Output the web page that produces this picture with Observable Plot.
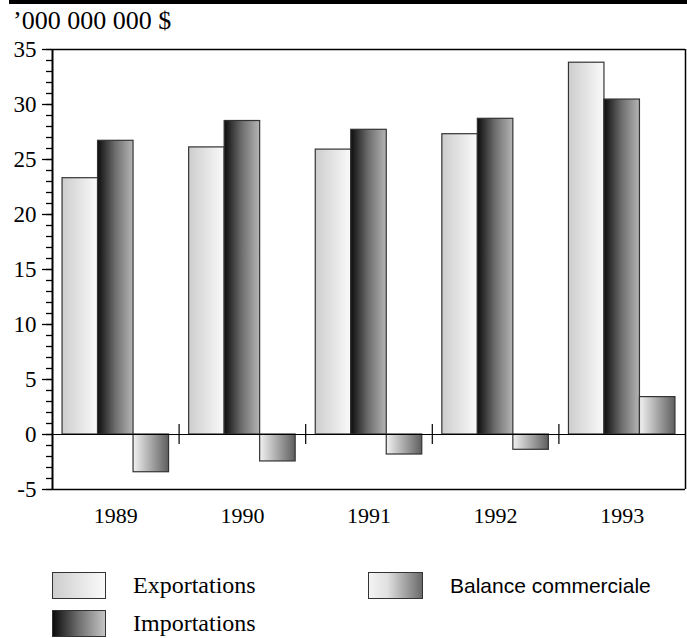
<!DOCTYPE html>
<html>
<head>
<meta charset="utf-8">
<script src="https://cdn.jsdelivr.net/npm/d3@7"></script>
<script src="https://cdn.jsdelivr.net/npm/@observablehq/plot@0.6"></script>
<style>
  body { margin: 0; background: #fff; width: 687px; height: 638px; position: relative; overflow: hidden; }
  #topbar { position: absolute; left: 9px; top: 0; width: 678px; height: 4px; background: #000; }
  #title { position: absolute; left: 13px; top: 8px; font-family: "Liberation Serif", "Times New Roman", serif; font-size: 26px; line-height: 26px; color: #000; white-space: nowrap; }
  #chart { position: absolute; left: 0; top: 34px; }
  .sw { position: absolute; box-sizing: border-box; border: 1px solid #333; height: 27px; }
  .lt { position: absolute; white-space: nowrap; color: #000; }
</style>
</head>
<body>
<div id="topbar"></div>
<div id="title">’000 000 000 $</div>
<div id="chart"></div>
<div class="sw" style="left:52px;top:572px;width:54px;background:linear-gradient(to right,#cdcdcd,#fafafa);"></div>
<div class="lt" style="left:133px;top:573px;font-family:'Liberation Serif','Times New Roman',serif;font-size:24px;line-height:24px;">Exportations</div>
<div class="sw" style="left:52px;top:610px;width:54px;background:linear-gradient(to right,#0d0d0d,#707070 50%,#c4c4c4);"></div>
<div class="lt" style="left:133px;top:611px;font-family:'Liberation Serif','Times New Roman',serif;font-size:24px;line-height:24px;">Importations</div>
<div class="sw" style="left:368px;top:572px;width:55px;background:linear-gradient(to right,#f4f4f4,#e0e0e0 35%,#6a6a6a);"></div>
<div class="lt" style="left:450px;top:575px;font-family:'Liberation Sans',Arial,sans-serif;font-size:21px;line-height:21px;">Balance commerciale</div>
<script>
// ---- data ----
const years = ["1989", "1990", "1991", "1992", "1993"];
const seriesNames = ["Exportations", "Importations", "Balance commerciale"];
const exportations = [23.3, 26.1, 25.9, 27.3, 33.8];
const importations = [26.7, 28.5, 27.7, 28.7, 30.45];
const balance = [-3.43, -2.45, -1.82, -1.39, 3.4];
const yMajorTicks = [-5, 0, 5, 10, 15, 20, 25, 30, 35];
const yMinorTicks = d3.range(-5, 36, 1);

const seriesValues = [exportations, importations, balance];
const seriesFill = ["url(#gExp)", "url(#gImp)", "url(#gBal)"];

// position of each series within a year group (fraction of the group)
const inner = d3.scaleBand().domain(seriesNames).range([0, 1]).paddingInner(0).paddingOuter(0.283);

const rows = [];
seriesNames.forEach((s, k) => {
  years.forEach((y, i) => {
    rows.push({ series: s, year: y, value: seriesValues[k][i], x1: i + inner(s), x2: i + inner(s) + inner.bandwidth() });
  });
});

const barMarks = seriesNames.map((s, k) =>
  Plot.rect(rows.filter(d => d.series === s), {
    x1: "x1", x2: "x2", y1: () => 0, y2: "value",
    fill: seriesFill[k], stroke: "#333", strokeWidth: 1.2
  })
);

const chart = Plot.plot({
  width: 687,
  height: 505,
  marginTop: 15,
  marginBottom: 50,
  marginLeft: 52,
  marginRight: 2,
  style: { fontFamily: '"Liberation Serif", serif', fontSize: "22px", background: "transparent", color: "#000", overflow: "visible" },
  x: { domain: [0, years.length], label: null },
  y: { domain: [-5, 35], label: null },
  marks: [
    ...barMarks,
    Plot.ruleY([35], { stroke: "#000", strokeWidth: 1.3 }),
    Plot.ruleY([-5], { stroke: "#000", strokeWidth: 1.5 }),
    Plot.ruleY([0], { stroke: "#000", strokeWidth: 1.2 }),
    Plot.ruleX([years.length], { stroke: "#000", strokeWidth: 1.5 }),
    Plot.ruleX([0], { stroke: "#000", strokeWidth: 2 }),
    Plot.ruleX(d3.range(1, years.length), { y1: () => -0.9, y2: () => 0.9, stroke: "#000", strokeWidth: 1.2 }),
    Plot.axisY({ ticks: yMinorTicks, tickSize: 6, tickFormat: () => "", label: null, strokeWidth: 1.3 }),
    Plot.axisY({ ticks: yMajorTicks, tickSize: 10, tickPadding: 6, tickFormat: d => String(d), label: null, strokeWidth: 1.3 }),
    Plot.axisX({ ticks: years.map((_, i) => i + 0.5), tickSize: 0, tickPadding: 18, tickFormat: v => years[Math.floor(v)], label: null })
  ]
});

const svg = d3.select(chart);
svg.selectAll('g[aria-label="y-axis tick label"]').attr("font-size", 23).style("font-size", "23px");
svg.selectAll('g[aria-label="x-axis tick label"]').attr("font-size", 22).style("font-size", "22px");

const defs = svg.insert("defs", ":first-child");
function grad(id, stops) {
  const g = defs.append("linearGradient").attr("id", id).attr("x1", 0).attr("x2", 1).attr("y1", 0).attr("y2", 0);
  stops.forEach(([o, c]) => g.append("stop").attr("offset", o).attr("stop-color", c));
}
grad("gExp", [[0, "#cdcdcd"], [1, "#fafafa"]]);
grad("gImp", [[0, "#0d0d0d"], [0.5, "#6e6e6e"], [1, "#b5b5b5"]]);
grad("gBal", [[0, "#f2f2f2"], [1, "#5e5e5e"]]);

document.getElementById("chart").appendChild(chart);
</script>
</body>
</html>
